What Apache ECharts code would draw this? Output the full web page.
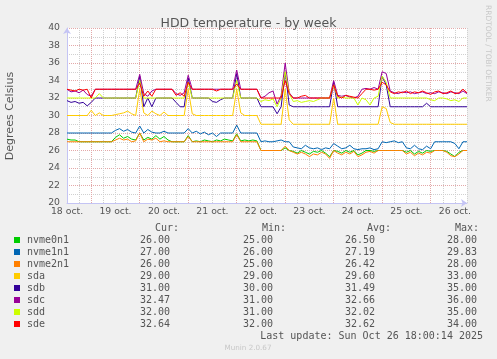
<!DOCTYPE html>
<html><head><meta charset="utf-8">
<script src="https://cdn.jsdelivr.net/npm/echarts@6/dist/echarts.min.js"></script>
<style>html,body{margin:0;padding:0;background:#f0f0f0}#c{width:497px;height:359px}</style>
</head><body><div id="c"></div>
<script>
// hours since Oct 18 12:00 (2 h steps)
const hours = [0,2,4,6,8,10,12,14,16,18,20,22,24,26,28,30,32,34,36,38,40,42,44,46,48,50,52,54,56,58,60,62,64,66,68,70,72,74,76,78,80,82,84,86,88,90,92,94,96,98,100,102,104,106,108,110,112,114,116,118,120,122,124,126,128,130,132,134,136,138,140,142,144,146,148,150,152,154,156,158,160,162,164,166,168,170,172,174,176,178,180,182,184,186,188,190,192,194,196,198];
const dayLabels = ['18 oct.','19 oct.','20 oct.','21 oct.','22 oct.','23 oct.','24 oct.','25 oct.','26 oct.'];
const seriesNames = ['nvme0n1','nvme1n1','nvme2n1','sda','sdb','sdc','sdd','sde'];
const seriesColors = ['#00cc00','#0066b3','#ff8000','#ffcc00','#330099','#990099','#ccff00','#ff0000'];
const curVals = ['26.00','27.00','26.00','29.00','31.00','32.47','32.00','32.64'];
const minVals = ['25.00','26.00','25.00','29.00','30.00','31.00','31.00','32.00'];
const avgVals = ['26.50','27.19','26.42','29.60','31.49','32.66','32.02','32.62'];
const maxVals = ['28.00','29.83','28.00','33.00','35.00','36.00','35.00','34.00'];

const nvme0n1 = [27.3,27.2,27.2,27,27,27,27,27,27,27,
 27,27,27.5,27.8,27.4,27.6,27.3,27.2,28,27.2,
 27.5,27.3,27.7,27.3,27.6,27.2,27,27,27,27,
 27.7,27,27.1,27,27.2,27.1,27,27.2,27.1,27.3,
 27.2,27.1,27.9,27.1,27.2,27.1,27.2,27.1,26,26,
 26,26,26,26,26.3,26,25.9,25.7,26,25.8,
 25.6,25.9,25.8,26,25.7,25.3,26,25.9,25.7,26,
 25.8,26,25.5,25.7,26,26,25.9,26,26,26,
 26,26,26,26,25.8,26,25.6,25.9,25.7,26,
 25.9,26,26,26,25.9,25.6,25.3,25.8,26,26];
const nvme1n1 = [28,28,28,28,28,28,28,28,28,28,
 28,28,28.3,28.5,28.2,28.4,28.1,28,28.8,28,
 28.4,28.1,28,28,28.2,28,28,28,28,28,
 28.5,28,28.2,27.9,28.1,27.8,28,27.6,28,28,
 28,28,28.9,28,28,28,28,28,27,27.1,
 27,27,27.1,27.2,27,27,26.4,26.3,26.2,26.6,
 26.3,26.2,26.3,26.1,26.3,26.2,26.8,26.5,26.2,26.3,
 26.6,26.2,26.1,26.2,26.2,26.3,26.1,26.2,27,26.9,
 27,27.1,26.9,27,26.3,26.2,26.6,26.2,26.1,26.5,
 26.2,27,27,27,27,27,26.8,26.2,27,27];
const nvme2n1 = [27,27,27,27,27,27,27,27,27,27,
 27,27,27.2,27.4,27.2,27.3,27,27.1,28,27,
 27.3,27.2,27.4,27,27.1,27,27,27,27,27,
 27.6,27,27,27,27,27,27,27,27,27,
 27,27,27.8,27,27,27,27,27,26,26,
 26,26,26,26,26.5,26,25.8,25.6,25.8,25.6,
 25.3,25.6,25.5,25.8,25.6,25.1,26,25.7,25.5,25.8,
 25.6,25.9,25.3,25.5,25.8,25.9,25.7,26,26,26,
 26,26,26,26,25.6,25.8,25.4,25.7,25.5,25.8,
 25.7,26,26,26,25.8,25.4,25.3,25.6,26,26];
const sda = [30,30,30,30,30,30,30.6,30,30.3,30,
 30,30,30.1,30.2,30.3,30.5,30.2,30,33,30.3,
 30,30.5,30.2,30,30.4,30,30,30,30,30,
 33,30.2,30,30,30,30,30,30,30,30,
 30,30,33,30.3,30,30,30,30,29,29,
 29,29,29,29,33,29.5,29,29,29,29,
 29,29,29,29,29,29,32,29,29,29,
 29,29,29,29,29,29,29,29,31,30.8,
 29.2,29,29,29,29,29,29,29,29,29,
 29,29,29,29,29,29,29,29,29,29];
const sdb = [31.7,31.5,31.6,31.4,31.5,31.1,31.5,32,32,32,
 32,32,32,32,32,32,32,32,34.5,31,
 32,31,32,32,32,32,32,31.5,31,31,
 34.3,32,32,32,32,32,31.6,31.5,31.8,32,
 32,32,34.8,32,32,32,32,32,31,31,
 31,31,30.2,31,35,31.2,31,31,31,31,
 31,31,31,31,31,31,33.8,31,31,31,
 31,31,31,31,31,31,31,31,34.5,33.5,
 31,31,31,31,31,31,31,31,31,31.4,
 31,31,31,31,31,31,31,31,31,31];
const sdc = [33,32.7,32.8,32.6,32.9,32.4,32.2,33,33,33,
 33,33,33,33,33,33,33,33,34.7,32.5,
 32.2,32.8,33,33,33,33,33,32.5,32.3,32.6,
 34.6,33,33,33,33,33,33,33,33,33,
 33,33,35.2,33,33,33,33,33,32,32.2,
 32.6,32.8,31.3,32.3,36,32.6,32,32,32,32,
 32,32,32,32,32,32,34,32.3,32.2,32.3,
 32.1,32,32.2,33,33.1,33,33.2,33,35,34.8,
 32.8,32.6,32.5,32.7,32.6,32.7,32.5,32.6,32.7,32.5,
 32.6,32.5,32.7,32.6,32.5,32.7,32.6,32.5,32.8,32.5];
const sdd = [32,32,32,32,32,32,32,32,32.5,32,
 32,32,32,32,32,32,32,32,34,32,
 32,32,32,32,32,32,32,32,32,32,
 33.8,32,32,32,32,32,32,32,32,32,
 32,32,34,32,32,32,32,32,31.6,31.8,
 31.7,31.9,31,32,35,32.5,31.6,31.7,31.5,31.6,
 31.7,31.6,31.8,32,32,32,33.5,32,32.1,32,
 32,32,31.2,32,31.8,31.2,32,32.2,34.5,33.8,
 32,32,32,32,32,32,32,32,32,32,
 31.8,31.7,32,32,31.9,31.7,31.8,31.6,32,32];
const sde = [33,32.9,32.8,33,32.9,33,32,33,33,33,
 33,33,33,33,33,33,33,33,33.7,32.2,
 32.8,32.2,33,33,33,33,33,32.3,32.6,32.2,
 33.8,33,33,33,33,33,33,32.8,33,33,
 33,33,33.6,33,33,33,33,33,32,32,
 32,32,32,32,34,32.5,32,32,32.2,32.3,
 32,32,32,32,32,32,33.5,32.2,32,32.3,
 32.2,32.1,32,32.5,33,33,32.9,33,33.8,33.5,
 32.7,32.5,32.7,32.6,32.8,32.5,32.7,32.6,32.8,32.6,
 32.4,32.7,32.8,32.5,32.6,32.8,32.5,32.6,33,32.6];

const seriesData = [nvme0n1, nvme1n1, nvme2n1, sda, sdb, sdc, sdd, sde];
const TXT = '#555555';
const MAJ = '#e3a8a8';
const MIN = '#d0d0d0';
const AX = '#c4c4f4';

const chart = echarts.init(document.getElementById('c'), null, {renderer: 'canvas'});

const graphics = [];
graphics.push({type:'text', x:10.5, y:116, rotation:Math.PI/2,
  style:{text:'Degrees Celsius', font:'11px "DejaVu Sans"', fill:TXT, align:'center', verticalAlign:'middle'}});
graphics.push({type:'text', x:487.5, y:5, rotation:-Math.PI/2,
  style:{text:'RRDTOOL / TOBI OETIKER', font:'7.5px "DejaVu Sans"', fill:'#c8c8c8', align:'left', verticalAlign:'middle'}});
const MONO = '10px "DejaVu Sans Mono"';
const colRight = [170, 273, 375, 477];
const headRight = [179, 286, 391, 479];
const heads = ['Cur:','Min:','Avg:','Max:'];
heads.forEach((h, k) => graphics.push({type:'text', x:headRight[k], y:228,
  style:{text:h, font:MONO, fill:TXT, align:'right', verticalAlign:'middle'}}));
seriesNames.forEach((n, r) => {
  const y = 240 + r * 12;
  graphics.push({type:'rect', shape:{x:14, y:y-3, width:6, height:6}, style:{fill:seriesColors[r]}});
  graphics.push({type:'text', x:27, y:y, style:{text:n, font:MONO, fill:TXT, align:'left', verticalAlign:'middle'}});
  [curVals, minVals, avgVals, maxVals].forEach((arr, k) => graphics.push({type:'text', x:colRight[k], y:y,
    style:{text:arr[r], font:MONO, fill:TXT, align:'right', verticalAlign:'middle'}}));
});
graphics.push({type:'text', x:483, y:336, style:{text:'Last update: Sun Oct 26 18:00:14 2025', font:MONO, fill:TXT, align:'right', verticalAlign:'middle'}});
graphics.push({type:'text', x:248, y:348, style:{text:'Munin 2.0.67', font:'7.2px "DejaVu Sans"', fill:'#c8c8c8', align:'center', verticalAlign:'middle'}});

chart.setOption({
  animation: false,
  backgroundColor: '#f0f0f0',
  title: {text:'HDD temperature - by week', left:'center', top:12,
    textStyle:{fontFamily:'DejaVu Sans', fontSize:12.5, fontWeight:'normal', color:TXT}},
  grid: {left:67, top:28, width:400, height:175, show:true, backgroundColor:'#ffffff', borderWidth:0},
  xAxis: {
    type:'value', min:0, max:198, interval:6,
    axisLine:{show:true, lineStyle:{color:AX, width:1}, symbol:['none','arrow'], symbolSize:[6,6]},
    axisTick:{show:false},
    axisLabel:{margin:4, color:TXT, fontFamily:'DejaVu Sans', fontSize:9.3, showMinLabel:true, showMaxLabel:true,
      formatter:(v)=> (v % 24 === 0 ? dayLabels[v/24] : '')},
    splitLine:{show:true, lineStyle:{color:[MIN, MIN, MAJ, MIN], type:[1,1], width:1}}
  },
  yAxis: {
    type:'value', min:20, max:40, interval:2,
    axisLine:{show:true, lineStyle:{color:AX, width:1}, symbol:['none','arrow'], symbolSize:[6,6]},
    axisTick:{show:false},
    axisLabel:{margin:7, color:TXT, fontFamily:'DejaVu Sans', fontSize:9.3},
    splitLine:{show:true, lineStyle:{color:MAJ, type:[1,1], width:1}},
    minorTick:{show:false, splitNumber:2},
    minorSplitLine:{show:true, lineStyle:{color:MIN, type:[1,1], width:1}}
  },
  series: seriesNames.map((n, k) => ({
    name:n, type:'line', showSymbol:false, symbol:'none',
    data: hours.map((h, i) => [h, seriesData[k][i]]),
    lineStyle:{color:seriesColors[k], width:1}, itemStyle:{color:seriesColors[k]},
    z: 2 + k * 0.01
  })),
  graphic: graphics
});
</script></body></html>
